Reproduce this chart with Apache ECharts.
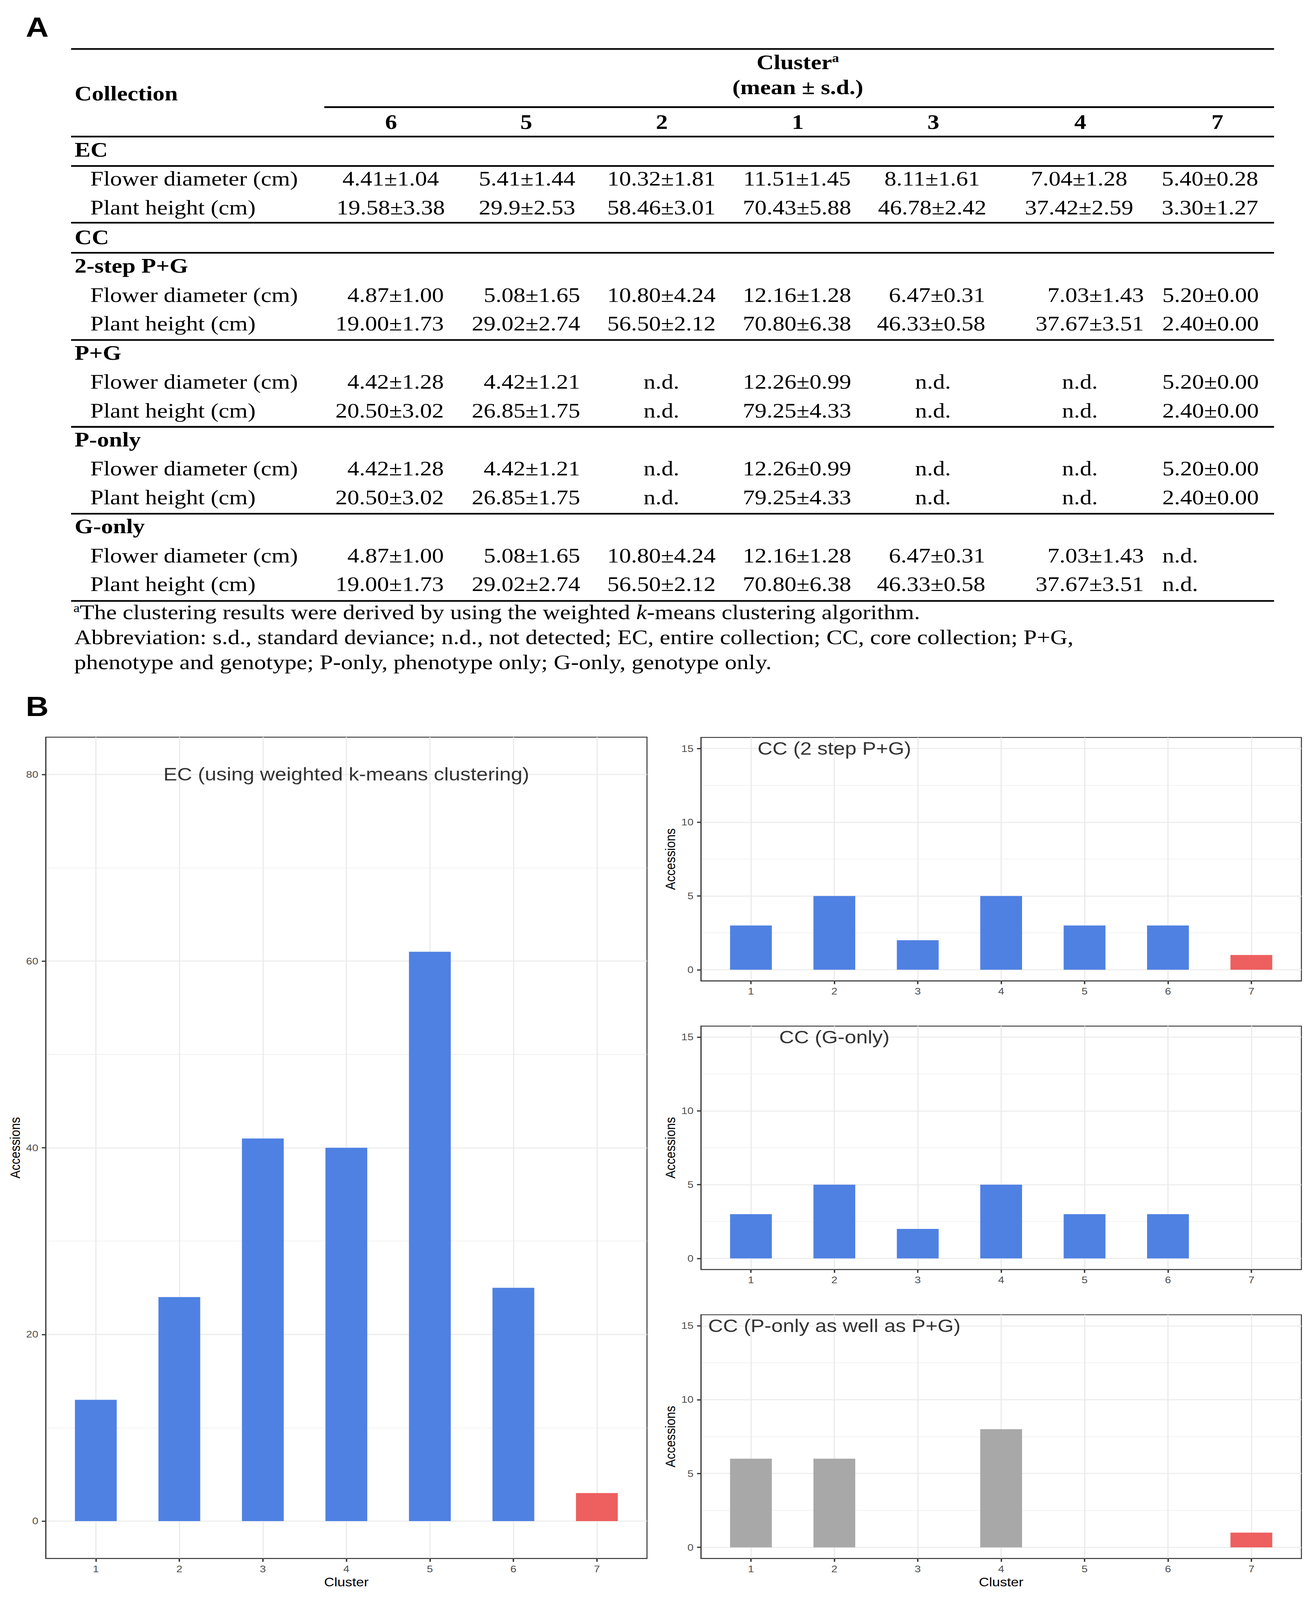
<!DOCTYPE html>
<html>
<head>
<meta charset="utf-8">
<script src="https://cdn.jsdelivr.net/npm/echarts@6/dist/echarts.min.js"></script>
<style>
html,body{margin:0;padding:0;background:#ffffff;overflow:hidden;}
#wrap{position:absolute;left:0;top:0;width:3353px;height:4734px;transform-origin:0 0;}
#c{width:3353px;height:4734px;}
</style>
</head>
<body>
<div id="wrap"><div id="c"></div></div>
<script>
// ---------------- Table (panel A) data ----------------
const clusterOrder = ['6', '5', '2', '1', '3', '4', '7'];
const traitNames = ['Flower diameter (cm)', 'Plant height (cm)'];
const ecFlower = ['4.41±1.04', '5.41±1.44', '10.32±1.81', '11.51±1.45', '8.11±1.61', '7.04±1.28', '5.40±0.28'];
const ecHeight = ['19.58±3.38', '29.9±2.53', '58.46±3.01', '70.43±5.88', '46.78±2.42', '37.42±2.59', '3.30±1.27'];
const twoStepFlower = ['4.87±1.00', '5.08±1.65', '10.80±4.24', '12.16±1.28', '6.47±0.31', '7.03±1.43', '5.20±0.00'];
const twoStepHeight = ['19.00±1.73', '29.02±2.74', '56.50±2.12', '70.80±6.38', '46.33±0.58', '37.67±3.51', '2.40±0.00'];
const pgFlower = ['4.42±1.28', '4.42±1.21', 'n.d.', '12.26±0.99', 'n.d.', 'n.d.', '5.20±0.00'];
const pgHeight = ['20.50±3.02', '26.85±1.75', 'n.d.', '79.25±4.33', 'n.d.', 'n.d.', '2.40±0.00'];
const pOnlyFlower = ['4.42±1.28', '4.42±1.21', 'n.d.', '12.26±0.99', 'n.d.', 'n.d.', '5.20±0.00'];
const pOnlyHeight = ['20.50±3.02', '26.85±1.75', 'n.d.', '79.25±4.33', 'n.d.', 'n.d.', '2.40±0.00'];
const gOnlyFlower = ['4.87±1.00', '5.08±1.65', '10.80±4.24', '12.16±1.28', '6.47±0.31', '7.03±1.43', 'n.d.'];
const gOnlyHeight = ['19.00±1.73', '29.02±2.74', '56.50±2.12', '70.80±6.38', '46.33±0.58', '37.67±3.51', 'n.d.'];
const footnotes = [
  'The clustering results were derived by using the weighted ',
  'Abbreviation: s.d., standard deviance; n.d., not detected; EC, entire collection; CC, core collection; P+G,',
  'phenotype and genotype; P-only, phenotype only; G-only, genotype only.'
];

// ---------------- Bar chart (panel B) data ----------------
const clusters = [1, 2, 3, 4, 5, 6, 7];
const ecCounts = [13, 24, 41, 40, 61, 25, 3];
const cc2StepCounts = [3, 5, 2, 5, 3, 3, 1];
const ccGOnlyCounts = [3, 5, 2, 5, 3, 3, 0];
const ccPOnlyCounts = [6, 6, 0, 8, 0, 0, 1];
const ecTicks = [0, 20, 40, 60, 80];
const ecMinorTicks = [10, 30, 50, 70];
const ccTicks = [0, 5, 10, 15];
const ccMinorTicks = [2.5, 7.5, 12.5];
const panelTitles = ['EC (using weighted k-means clustering)', 'CC (2 step P+G)', 'CC (G-only)', 'CC (P-only as well as P+G)'];
const panelTitleAt = [[4, 80], [2, 15], [2, 15], [2, 15]];

// ---------------- styles ----------------
const SERIF = '"Liberation Serif", "Times New Roman", serif';
const SANS = '"Liberation Sans", Arial, sans-serif';
const BLUE = '#4F81E3';
const RED = '#EE5F5F';
const GRAY = '#A8A8A8';

// fit the 3353x4734 figure into whatever viewport the browser really offers
(function fit() {
  const sx = (window.innerWidth || 3353) / 3353;
  const sy = (window.innerHeight || 4734) / 4734;
  document.getElementById('wrap').style.transform = 'scale(' + sx + ',' + sy + ')';
})();

// ---------------- Table graphics ----------------
const els = [];
function txt(x, base, text, size, extra) {
  const st = Object.assign({
    text: text, fontSize: size, fontFamily: SERIF, fill: '#000',
    align: 'left', textAlign: 'left', verticalAlign: 'middle', textVerticalAlign: 'middle'
  }, extra || {});
  if (st.align) st.textAlign = st.align;
  els.push({ type: 'text', x: x, y: base - 0.34 * size, style: st, silent: true });
}
function rule(x1, x2, y, w) {
  els.push({ type: 'rect', shape: { x: x1, y: y - w / 2, width: x2 - x1, height: w }, style: { fill: '#000' }, silent: true });
}
els.push({ type: 'text', x: 66, y: 40, style: { text: 'A', fontSize: 81, fontWeight: 'bold', fontFamily: SANS, fill: '#000', verticalAlign: 'top', textVerticalAlign: 'top' }, silent: true });
els.push({ type: 'text', x: 66, y: 2050, style: { text: 'B', fontSize: 81, fontWeight: 'bold', fontFamily: SANS, fill: '#000', verticalAlign: 'top', textVerticalAlign: 'top' }, silent: true });

const TL = 182, TR = 3261, FS = 61;
const headCenters = [1001, 1347, 1694, 2042, 2389, 2765, 3116];
const ecCenters = [1000, 1349, 1693, 2040, 2386, 2762, 3097];
const ccAlign = [['right', 1136], ['right', 1485], ['center', 1693], ['center', 2040], ['right', 2522], ['right', 2928], ['left', 2975]];

rule(TL, TR, 145, 5);
els.push({ type: 'text', x: 2042, y: 205 - 0.34 * FS, silent: true, style: {
  text: '{m|Cluster}{s|a}', align: 'center', textAlign: 'center', verticalAlign: 'middle', textVerticalAlign: 'middle',
  fontFamily: SERIF, fontSize: FS, fontWeight: 'bold', fill: '#000',
  rich: { m: { fontFamily: SERIF, fontSize: FS, fontWeight: 'bold', fill: '#000' },
          s: { fontFamily: SERIF, fontSize: 36, fontWeight: 'bold', fill: '#000', verticalAlign: 'top' } }
}});
txt(2042, 279, '(mean ± s.d.)', FS, { fontWeight: 'bold', align: 'center' });
txt(191, 297, 'Collection', FS, { fontWeight: 'bold' });
rule(830, TR, 317, 5);
clusterOrder.forEach((c, i) => txt(headCenters[i], 381, c, FS, { fontWeight: 'bold', align: 'center' }));
rule(TL, TR, 404, 5);

txt(191, 463, 'EC', FS, { fontWeight: 'bold' });
rule(TL, TR, 491, 5);
txt(231, 549, traitNames[0], FS);
txt(231, 634, traitNames[1], FS);
ecFlower.forEach((v, i) => txt(ecCenters[i], 549, v, FS, { align: 'center' }));
ecHeight.forEach((v, i) => txt(ecCenters[i], 634, v, FS, { align: 'center' }));
rule(TL, TR, 659, 5);
txt(191, 722, 'CC', FS, { fontWeight: 'bold' });
rule(TL, TR, 748, 5);

function ccBlock(label, base, flower, height, ruleY) {
  txt(191, base, label, FS, { fontWeight: 'bold' });
  [[flower, base + 86], [height, base + 171]].forEach(([vals, b], r) => {
    txt(231, b, traitNames[r], FS);
    vals.forEach((v, i) => {
      let a = ccAlign[i];
      if (v === 'n.d.' && (i === 4 || i === 5)) a = ['center', ecCenters[i] + 2];
      txt(a[1], b, v, FS, { align: a[0] });
    });
  });
  rule(TL, TR, ruleY, 5);
}
ccBlock('2-step P+G', 807, twoStepFlower, twoStepHeight, 1006);
ccBlock('P+G', 1064, pgFlower, pgHeight, 1263);
ccBlock('P-only', 1321, pOnlyFlower, pOnlyHeight, 1520);
ccBlock('G-only', 1578, gOnlyFlower, gOnlyHeight, 1778);

els.push({ type: 'text', x: 188, y: 1832 - 0.34 * FS, silent: true, style: {
  text: '{s|a}{n|' + footnotes[0] + '}{i|k}{n|-means clustering algorithm.}',
  align: 'left', textAlign: 'left', verticalAlign: 'middle', textVerticalAlign: 'middle',
  fontFamily: SERIF, fontSize: FS, fill: '#000',
  rich: { n: { fontFamily: SERIF, fontSize: FS, fill: '#000' },
          i: { fontFamily: SERIF, fontSize: FS, fill: '#000', fontStyle: 'italic' },
          s: { fontFamily: SERIF, fontSize: 36, fill: '#000', verticalAlign: 'top' } }
}});
txt(190, 1906, footnotes[1], FS);
txt(190, 1980, footnotes[2], FS);

// ---------------- Charts ----------------
const panels = [
  { left: 117, top: 2181, width: 1539, height: 2430, min: -4, max: 84, ticks: ecTicks, minor: ecMinorTicks, counts: ecCounts, base: BLUE, xName: 'Cluster' },
  { left: 1794, top: 2182, width: 1537, height: 720, min: -0.75, max: 15.75, ticks: ccTicks, minor: ccMinorTicks, counts: cc2StepCounts, base: BLUE, xName: '' },
  { left: 1794, top: 3036, width: 1537, height: 720, min: -0.75, max: 15.75, ticks: ccTicks, minor: ccMinorTicks, counts: ccGOnlyCounts, base: BLUE, xName: '' },
  { left: 1794, top: 3890, width: 1537, height: 721, min: -0.75, max: 15.75, ticks: ccTicks, minor: ccMinorTicks, counts: ccPOnlyCounts, base: GRAY, xName: 'Cluster' }
];
const grids = [], xAxes = [], yAxes = [], series = [];
const AX = '#333333';
panels.forEach((p, i) => {
  grids.push({ left: p.left, top: p.top, width: p.width, height: p.height, show: true,
    borderColor: AX, borderWidth: 2.5, backgroundColor: '#ffffff', containLabel: false, outerBoundsMode: 'none' });
  xAxes.push({
    gridIndex: i, type: 'value', min: 0.4, max: 7.6, position: 'bottom',
    axisLine: { show: true, onZero: false, lineStyle: { color: AX, width: 2.5 } },
    axisTick: { show: true, customValues: clusters, length: 10, lineStyle: { color: AX, width: 3.5 } },
    axisLabel: { show: true, customValues: clusters, fontSize: 28, color: '#4D4D4D', margin: 17, fontFamily: SANS },
    splitLine: { show: true, lineStyle: { color: '#EBEBEB', width: 3 } },
    name: p.xName, nameLocation: 'middle', nameGap: 52,
    nameTextStyle: { fontSize: 36, color: '#000', fontFamily: SANS }
  });
  yAxes.push({
    gridIndex: i, type: 'value', min: p.min, max: p.max, position: 'left',
    axisLine: { show: true, onZero: false, lineStyle: { color: AX, width: 2.5 } },
    axisTick: { show: true, customValues: p.ticks, length: 10, lineStyle: { color: AX, width: 3.5 } },
    axisLabel: { show: true, customValues: p.ticks, fontSize: 28, color: '#4D4D4D', margin: 19, fontFamily: SANS },
    splitLine: { show: true, lineStyle: { color: '#EBEBEB', width: 3 } },
    name: 'Accessions', nameLocation: 'middle', nameGap: 60,
    nameTextStyle: { fontSize: 36, color: '#000', fontFamily: SANS }
  });
  yAxes.push({
    gridIndex: i, type: 'value', min: p.min, max: p.max, position: 'left',
    axisLine: { show: false }, axisTick: { show: false, customValues: p.minor },
    axisLabel: { show: false, customValues: p.minor },
    splitLine: { show: true, lineStyle: { color: '#EBEBEB', width: 1.5 } }
  });
  series.push({
    type: 'bar', xAxisIndex: i, yAxisIndex: 2 * i, barWidth: Math.round(p.width / 7.2 * 0.5), z: 3,
    data: clusters.map((c, k) => ({ value: [c, p.counts[k]], itemStyle: { color: c === 7 ? RED : p.base } })),
    silent: true
  });
  series.push({
    type: 'scatter', xAxisIndex: i, yAxisIndex: 2 * i, symbolSize: 1, z: 5, silent: true,
    itemStyle: { color: 'rgba(0,0,0,0)' },
    data: [panelTitleAt[i]],
    label: { show: true, position: 'inside', formatter: panelTitles[i], fontSize: 53, color: '#000', fontFamily: SANS }
  });
});

const chart = echarts.init(document.getElementById('c'), null, { renderer: 'svg', width: 3353, height: 4734 });
chart.setOption({
  animation: false,
  backgroundColor: '#ffffff',
  textStyle: { fontFamily: SANS },
  grid: grids, xAxis: xAxes, yAxis: yAxes, series: series,
  graphic: { elements: els }
});
</script>
</body>
</html>
